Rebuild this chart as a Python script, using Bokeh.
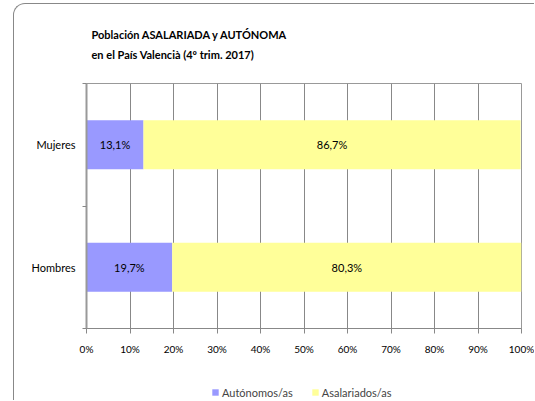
from bokeh.plotting import figure
from bokeh.layouts import column
from bokeh.models import (Range1d, FixedTicker, ColumnDataSource, Label, Legend, LegendItem,
                          CustomJSTickFormatter)
from bokeh.core.properties import value
from bokeh.embed import file_html
from bokeh.resources import INLINE

# ---- data ----
categories = ["Hombres", "Mujeres"]
autonomos = [19.7, 13.1]
asalariados = [80.3, 86.7]
series_names = ["Autónomos/as", "Asalariados/as"]
x_ticks = [0, 10, 20, 30, 40, 50, 60, 70, 80, 90, 100]
title_lines = ["Población ASALARIADA y AUTÓNOMA", "en el País Valencià (4º trim. 2017)"]

C_AUT = "#9999FF"
C_ASA = "#FFFF99"
FONT = "Lato"

def fmt(v):
    return ("%.1f%%" % v).replace(".", ",")

ypos = [i + 0.5 for i in range(len(categories))]
asa_right = [a + b for a, b in zip(autonomos, asalariados)]

src = ColumnDataSource(dict(
    y=ypos, aut_right=autonomos, asa_left=autonomos, asa_right=asa_right,
    aut_mid=[a / 2 for a in autonomos],
    asa_mid=[a + b / 2 for a, b in zip(autonomos, asalariados)],
    aut_lab=[fmt(v) for v in autonomos],
    asa_lab=[fmt(v) for v in asalariados],
))

W = 520


def strip(h):
    f = figure(width=W, height=h, output_backend="svg", toolbar_location=None,
               x_range=Range1d(0, 1), y_range=Range1d(0, 1),
               min_border=0, x_axis_type=None, y_axis_type=None)
    f.outline_line_color = None
    f.background_fill_color = None
    f.border_fill_color = None
    f.grid.visible = False
    return f


# ---- title strip ----
tf = strip(60)
for t, yy in zip(title_lines, [30, 10]):
    tf.add_layout(Label(x=5, y=yy, x_units="screen", y_units="screen", text=t,
                        text_font=FONT, text_font_style="bold", text_font_size="11px",
                        text_baseline="middle", text_align="left", text_color="black"))

# ---- main chart ----
p = figure(width=W, height=300, output_backend="svg", toolbar_location=None,
           x_range=Range1d(0, 100), y_range=Range1d(0, 2),
           min_border_left=72, min_border_right=13, min_border_top=19, min_border_bottom=36)
p.background_fill_color = "white"
p.border_fill_color = None
p.outline_line_color = "#999999"
p.outline_line_width = 1

p.hbar(y="y", left=0, right="aut_right", height=0.4, color=C_AUT, line_color=None, source=src)
p.hbar(y="y", left="asa_left", right="asa_right", height=0.4, color=C_ASA, line_color=None, source=src)

p.text(x="aut_mid", y="y", text="aut_lab", source=src, text_align="center",
       text_baseline="middle", text_font=value(FONT), text_font_size="11px", text_color="black")
p.text(x="asa_mid", y="y", text="asa_lab", source=src, text_align="center",
       text_baseline="middle", text_font=value(FONT), text_font_size="11px", text_color="black")

xa = p.xaxis[0]
xa.ticker = FixedTicker(ticks=x_ticks)
xa.formatter = CustomJSTickFormatter(code="return tick + '%';")
xa.major_tick_out = 5
xa.major_tick_in = 0
xa.minor_tick_out = 0
xa.minor_tick_in = 0
xa.axis_line_color = "#888888"
xa.major_tick_line_color = "#888888"
xa.major_label_text_font = FONT
xa.major_label_text_font_size = "10px"
xa.major_label_text_color = "black"
xa.major_label_standoff = 9

ya = p.yaxis[0]
ya.ticker = FixedTicker(ticks=ypos, minor_ticks=[0, 1, 2])
ya.major_label_overrides = {y: c for y, c in zip(ypos, categories)}
ya.major_tick_out = 0
ya.major_tick_in = 0
ya.minor_tick_out = 4
ya.minor_tick_in = 0
ya.minor_tick_line_color = "#888888"
ya.axis_line_color = "#999999"
ya.axis_line_width = 2
ya.major_label_text_font = FONT
ya.major_label_text_font_size = "11px"
ya.major_label_text_color = "black"
ya.major_label_standoff = 7

p.xgrid.ticker = FixedTicker(ticks=x_ticks)
p.xgrid.grid_line_color = "#888888"
p.ygrid.grid_line_color = None

# ---- legend strip ----
lg = strip(36)
dummy = ColumnDataSource(dict(y=[-10], l=[0], r=[1]))  # swatch-only renderers, off-range
d1 = lg.hbar(y="y", left="l", right="r", height=1, fill_color=C_AUT, line_color=None,
             source=dummy, visible=False)
d2 = lg.hbar(y="y", left="l", right="r", height=1, fill_color=C_ASA, line_color=None,
             source=dummy, visible=False)
legend = Legend(items=[LegendItem(label=series_names[0], renderers=[d1]),
                       LegendItem(label=series_names[1], renderers=[d2])],
                orientation="horizontal", location=(125, 1), click_policy="none",
                glyph_width=8, glyph_height=8, label_standoff=3, spacing=18,
                label_text_font=FONT, label_text_font_size="11px", label_height=14,
                padding=0, margin=0, border_line_color=None, background_fill_alpha=0)
lg.add_layout(legend)

layout = column(tf, p, lg, spacing=0)
layout.margin = (3, 0, 0, 13)
layout.styles = {"border-left": "1px solid #888888", "border-top": "1px solid #888888",
                 "border-top-left-radius": "12px"}

open("out.html", "w").write(file_html(layout, INLINE))
